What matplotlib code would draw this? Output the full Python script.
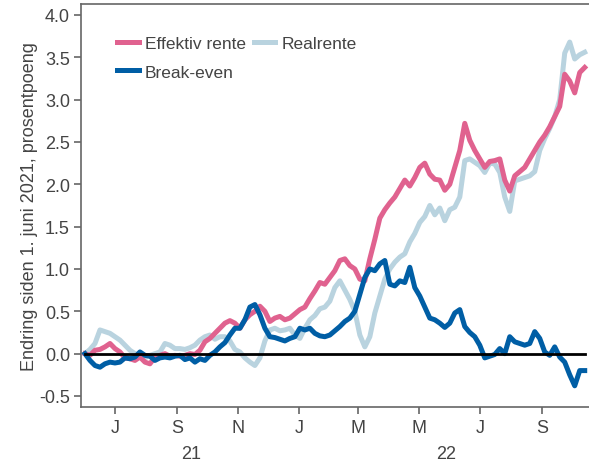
import pandas as pd
import matplotlib
matplotlib.use("Agg")
import matplotlib.pyplot as plt
import matplotlib.transforms as mtransforms

plt.rcParams['font.family'] = ['Liberation Sans', 'DejaVu Sans']

# observations every 5 days from 1 June 2021
START = "2021-06-01"
N_OBS = 101

effektiv = [0.0, -0.02, 0.04, 0.05, 0.08, 0.12, 0.06, 0.02, -0.05, -0.06,
            -0.08, -0.04, -0.1, -0.12, -0.04, -0.02, 0.0, -0.03, -0.02, -0.03,
            -0.02, 0.0, -0.01, 0.04, 0.14, 0.18, 0.24, 0.3, 0.36, 0.39,
            0.36, 0.3, 0.4, 0.46, 0.5, 0.56, 0.5, 0.38, 0.42, 0.44,
            0.4, 0.42, 0.47, 0.52, 0.55, 0.65, 0.74, 0.84, 0.82, 0.9,
            0.98, 1.1, 1.12, 1.04, 1.0, 0.88, 0.86, 1.12, 1.35, 1.6,
            1.7, 1.78, 1.85, 1.95, 2.05, 1.98, 2.08, 2.2, 2.25, 2.12,
            2.06, 2.05, 1.93, 2.0, 2.2, 2.4, 2.72, 2.52, 2.4, 2.3,
            2.2, 2.27, 2.28, 2.3, 2.05, 1.92, 2.1, 2.15, 2.2, 2.3,
            2.4, 2.5, 2.58, 2.68, 2.8, 2.92, 3.3, 3.22, 3.08, 3.32,
            3.38]

realrente = [0.0, 0.05, 0.12, 0.28, 0.26, 0.24, 0.2, 0.16, 0.1, 0.04,
             0.0, -0.02, -0.05, -0.02, 0.0, 0.02, 0.12, 0.1, 0.06, 0.06,
             0.05, 0.07, 0.1, 0.16, 0.2, 0.22, 0.17, 0.2, 0.2, 0.15,
             0.05, 0.02, -0.05, -0.1, -0.14, -0.05, 0.15, 0.28, 0.3, 0.27,
             0.28, 0.3, 0.22, 0.18, 0.3, 0.4, 0.45, 0.53, 0.55, 0.62,
             0.78, 0.86, 0.75, 0.64, 0.5, 0.22, 0.08, 0.2, 0.48, 0.68,
             0.88, 1.0, 1.08, 1.14, 1.18, 1.32, 1.42, 1.55, 1.62, 1.75,
             1.64, 1.72, 1.57, 1.7, 1.73, 1.85, 2.28, 2.3, 2.26, 2.22,
             2.14, 2.25, 2.24, 2.14, 1.85, 1.68, 2.04, 2.06, 2.08, 2.1,
             2.15, 2.4, 2.54, 2.66, 2.8, 3.0, 3.55, 3.68, 3.48, 3.53,
             3.56]

break_even = [0.0, -0.08, -0.14, -0.16, -0.12, -0.1, -0.11, -0.1, -0.05, -0.06,
              -0.04, 0.02, -0.02, -0.03, -0.08, -0.05, -0.04, -0.05, -0.03, -0.02,
              -0.07, -0.05, -0.1, -0.06, -0.08, -0.02, 0.02, 0.08, 0.13, 0.22,
              0.3, 0.3, 0.4, 0.55, 0.58, 0.46, 0.3, 0.2, 0.19, 0.17,
              0.15, 0.18, 0.2, 0.3, 0.28, 0.3, 0.24, 0.21, 0.2, 0.22,
              0.27, 0.32, 0.38, 0.42, 0.5, 0.7, 0.9, 1.0, 0.98, 1.06,
              1.1, 0.82, 0.8, 0.86, 0.84, 1.02, 0.78, 0.68, 0.55, 0.42,
              0.4, 0.36, 0.31, 0.36, 0.48, 0.52, 0.32, 0.25, 0.2, 0.1,
              -0.05, -0.03, -0.01, 0.06, 0.0, 0.2, 0.14, 0.12, 0.1, 0.12,
              0.26, 0.18, 0.02, -0.02, 0.08, -0.04, -0.1, -0.25, -0.38, -0.2,
              -0.2]

PINK = "#e0628f"
LIGHT = "#b9d3df"
DARK = "#005ea5"
GREY = "#444444"
FS = 13


def main():
    dates = pd.date_range(START, periods=N_OBS, freq="5D")

    fig = plt.figure(figsize=(5.89, 4.64), dpi=100)
    ax = fig.add_axes([0.1375, 0.1207, 0.862, 0.8686])

    ax.plot(dates, realrente, color=LIGHT, lw=3.6, zorder=2, label="Realrente")
    ax.plot(dates, effektiv, color=PINK, lw=3.6, zorder=3, label="Effektiv rente")
    ax.plot(dates, break_even, color=DARK, lw=3.6, zorder=4, label="Break-even")
    ax.plot([dates[0], dates[-1]], [0, 0], color="black", lw=2, zorder=5)

    ax.set_xlim(pd.Timestamp("2021-05-28"), pd.Timestamp("2022-10-18"))
    ax.set_ylim(-0.63, 4.13)
    ax.set_yticks([-0.5, 0, 0.5, 1, 1.5, 2, 2.5, 3, 3.5, 4])
    ax.yaxis.set_major_formatter(matplotlib.ticker.FormatStrFormatter("%.1f"))

    months = pd.to_datetime(["2021-07-01", "2021-09-01", "2021-11-01", "2022-01-01",
                             "2022-03-01", "2022-05-01", "2022-07-01", "2022-09-01"])
    ax.set_xticks(months)
    ax.set_xticklabels(["J", "S", "N", "J", "M", "M", "J", "S"])

    trans = mtransforms.blended_transform_factory(ax.transData, ax.transAxes)
    ax.text(pd.Timestamp("2021-09-15"), -0.095, "21", transform=trans,
            ha="center", va="top", fontsize=FS, color=GREY)
    ax.text(pd.Timestamp("2022-05-28"), -0.095, "22", transform=trans,
            ha="center", va="top", fontsize=FS, color=GREY)

    for side in ["left", "top", "bottom"]:
        ax.spines[side].set_color("#666666")
        ax.spines[side].set_linewidth(1.2)
    ax.spines["right"].set_visible(False)
    ax.tick_params(axis="both", colors="#666666", labelcolor=GREY,
                   labelsize=FS, length=5, width=1.2, direction="out")
    ax.tick_params(axis="x", pad=4)
    ax.tick_params(axis="y", pad=3)

    ax.set_ylabel("Endring siden 1. juni 2021, prosentpoeng", fontsize=FS,
                  color=GREY, labelpad=1)

    handles, labels = ax.get_legend_handles_labels()
    order = [1, 2, 0]
    ax.legend([handles[i] for i in order], [labels[i] for i in order],
              loc="upper left", bbox_to_anchor=(0.04, 0.96), ncol=2,
              frameon=False, fontsize=12.5, handlelength=1.25, handletextpad=0.35,
              columnspacing=0.45, labelspacing=0.78, labelcolor=GREY)

    fig.savefig("out.png", dpi=100)


if __name__ == '__main__':
    main()
